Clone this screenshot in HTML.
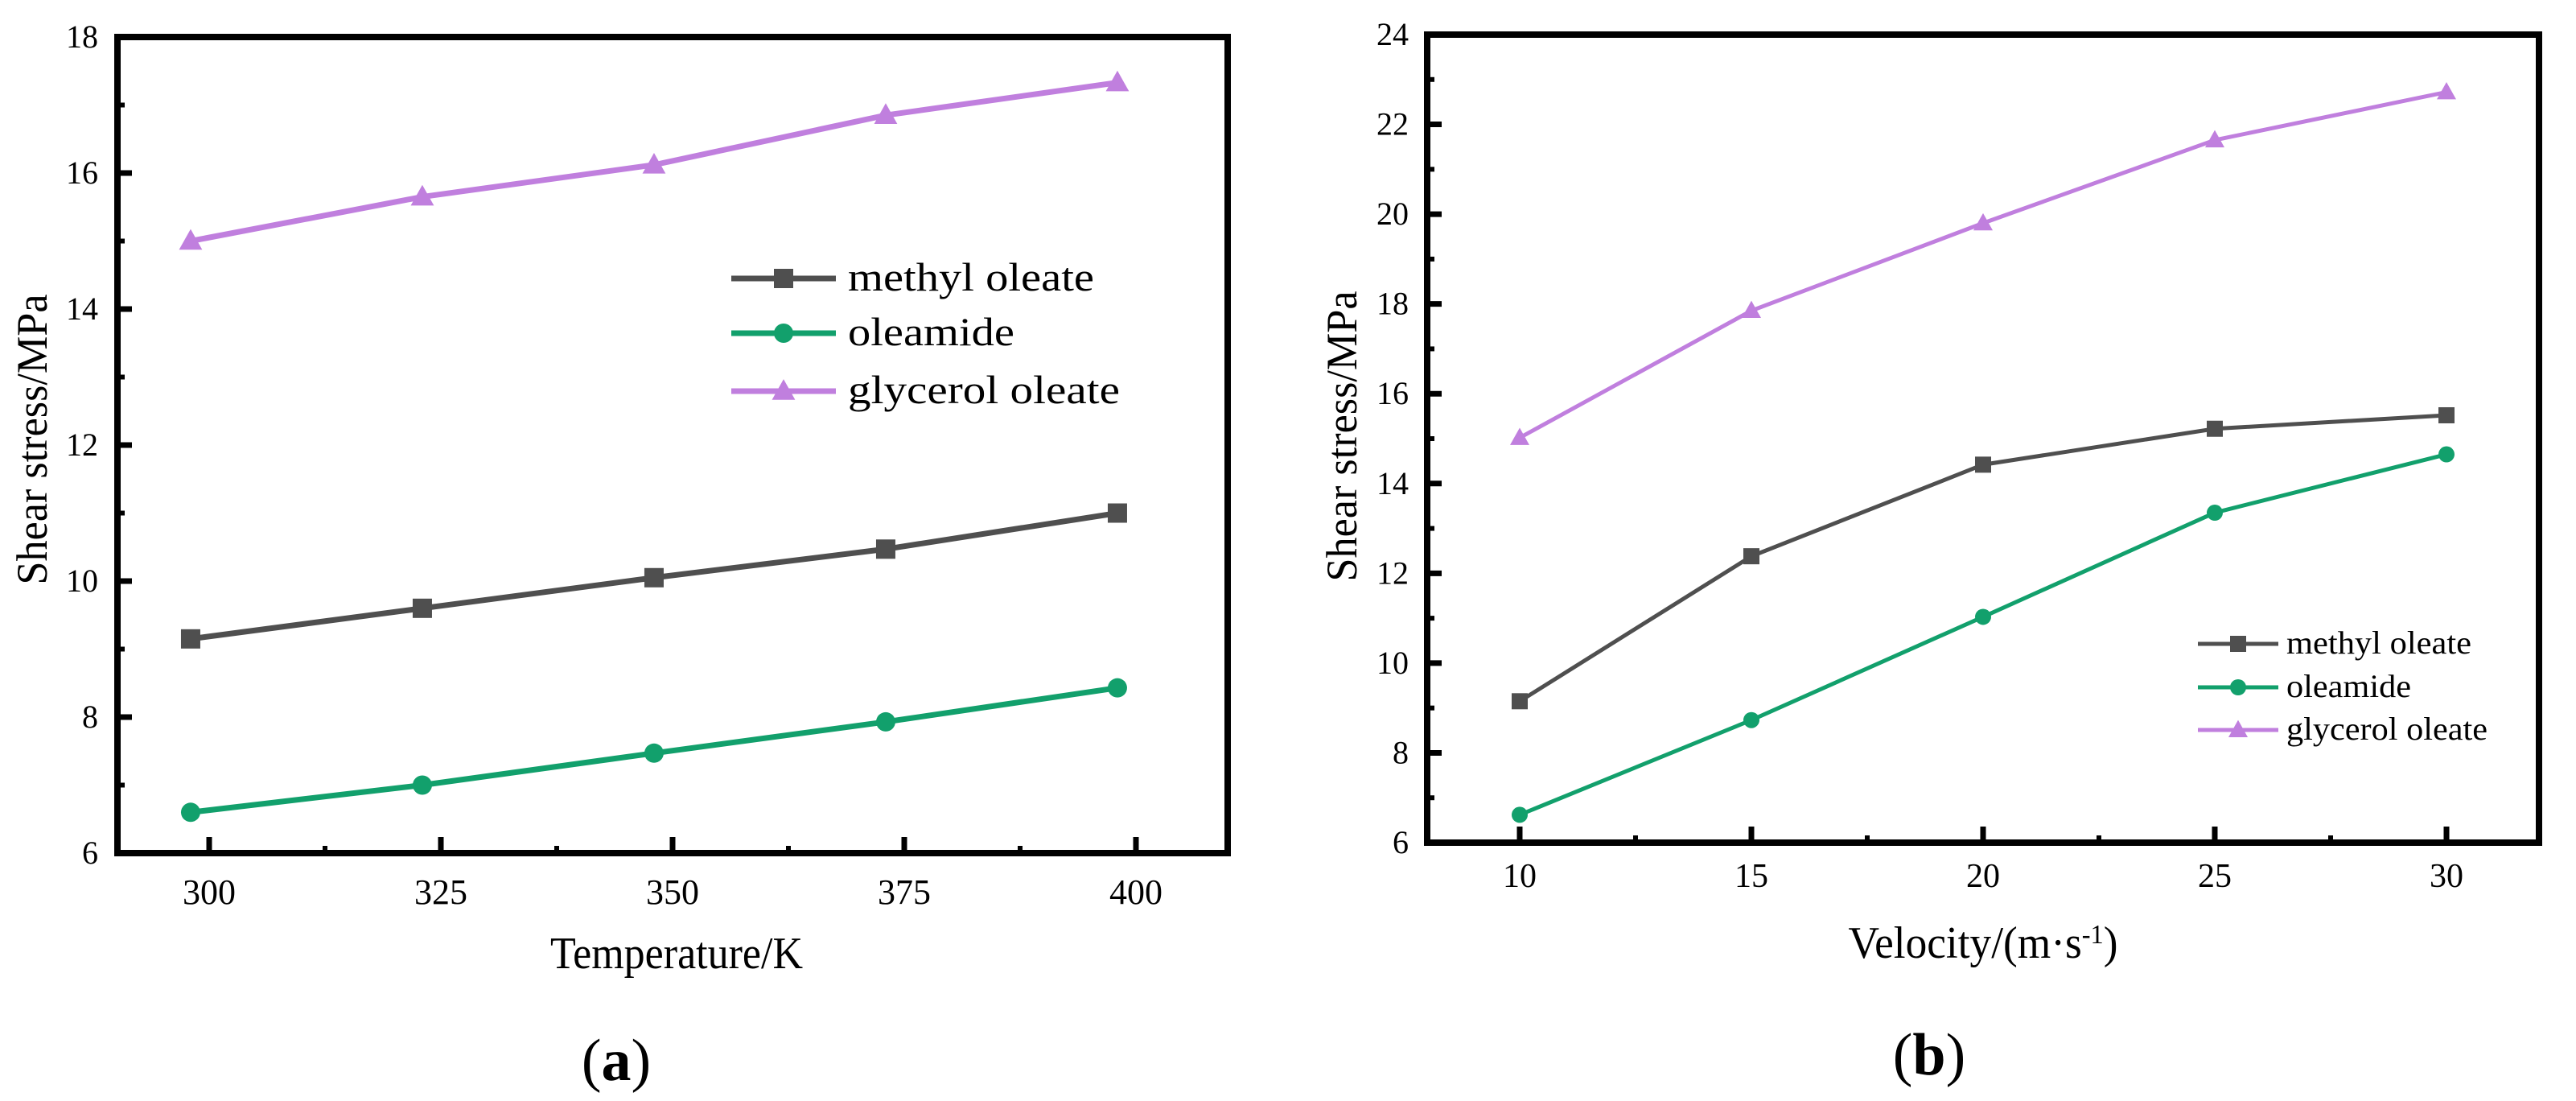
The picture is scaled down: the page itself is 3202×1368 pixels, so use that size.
<!DOCTYPE html>
<html><head><meta charset="utf-8"><style>
html,body{margin:0;padding:0;background:#fff;}
svg{display:block;font-family:"Liberation Serif",serif;}
</style></head><body>
<svg id="fig" width="3202" height="1368" viewBox="0 0 3202 1368"></svg>
<script>
// Panel (a) data
const tempX = [298, 323, 348, 373, 398];
const tempMethyl = [9.15, 9.6, 10.05, 10.47, 11.0];
const tempOleamide = [6.6, 7.0, 7.47, 7.93, 8.43];
const tempGlycerol = [15.0, 15.65, 16.12, 16.85, 17.33];
const tempXTicks = [300, 325, 350, 375, 400];
const tempYTicks = [6, 8, 10, 12, 14, 16, 18];
// Panel (b) data
const velX = [10, 15, 20, 25, 30];
const velMethyl = [9.15, 12.38, 14.42, 15.22, 15.52];
const velOleamide = [6.62, 8.73, 11.03, 13.35, 14.65];
const velGlycerol = [15.02, 17.85, 19.8, 21.65, 22.72];
const velXTicks = [10, 15, 20, 25, 30];
const velYTicks = [6, 8, 10, 12, 14, 16, 18, 20, 22, 24];
const seriesNames = ["methyl oleate", "oleamide", "glycerol oleate"];

const NS = "http://www.w3.org/2000/svg";
const svg = document.getElementById("fig");
function mk(tag, attrs, parent, text) {
  const e = document.createElementNS(NS, tag);
  for (const k in attrs) e.setAttribute(k, attrs[k]);
  if (text !== undefined) e.textContent = text;
  (parent || svg).appendChild(e);
  return e;
}
const COLORS = ["#4f4f4f", "#12a06c", "#c07fde"];

function marker(g, type, cx, cy, s, color) {
  let m;
  if (type === 0) m = mk("rect", {x: cx - s / 2, y: cy - s / 2, width: s, height: s, fill: color}, g);
  else if (type === 1) m = mk("circle", {cx: cx, cy: cy, r: s / 2, fill: color}, g);
  else { const h = s * 1.0; m = mk("polygon", {points: `${cx},${cy - h * 0.62} ${cx - s * 0.6},${cy + h * 0.45} ${cx + s * 0.6},${cy + h * 0.45}`, fill: color}, g); }
  return m;
}

function panel(cfg) {
  const g = mk("g", {});
  
  
  const sx = v => cfg.x0 + (v - cfg.xa) / (cfg.xb - cfg.xa) * (cfg.x1 - cfg.x0);
  const sy = v => cfg.yBot - (v - cfg.ymin) / (cfg.ymax - cfg.ymin) * (cfg.yBot - cfg.yTop);
  for (let i = 0; i < cfg.yTicks.length; i++) {
    const v = cfg.yTicks[i];
    const y = sy(v);
    const t = mk("line", {x1: cfg.L, x2: cfg.L + 18, y1: y, y2: y, stroke: "#000", "stroke-width": 7}, g);
    
    
    const lb = mk("text", {x: cfg.yLabX, y: y + 13, "text-anchor": "end", "font-size": cfg.yFont}, g, String(v));
    
    
    if (i < cfg.yTicks.length - 1) {
      const ym = sy((v + cfg.yTicks[i + 1]) / 2);
      const mt = mk("line", {x1: cfg.L, x2: cfg.L + 9, y1: ym, y2: ym, stroke: "#000", "stroke-width": 6}, g);
      
      
    }
  }
  for (let i = 0; i < cfg.xTicks.length; i++) {
    const v = cfg.xTicks[i];
    const x = sx(v);
    const t = mk("line", {x1: x, x2: x, y1: cfg.yBot, y2: cfg.yBot - 20, stroke: "#000", "stroke-width": 7}, g);
    
    
    const lb = mk("text", {x: x, y: cfg.xLabY, "text-anchor": "middle", "font-size": cfg.xFont}, g, String(v));
    
    
    if (i < cfg.xTicks.length - 1) {
      const xm = sx((v + cfg.xTicks[i + 1]) / 2);
      const mt = mk("line", {x1: xm, x2: xm, y1: cfg.yBot, y2: cfg.yBot - 9, stroke: "#000", "stroke-width": 6}, g);
      
      
    }
  }
  const fr = mk("rect", {x: cfg.L, y: cfg.yTop, width: cfg.R - cfg.L, height: cfg.yBot - cfg.yTop, fill: "none", stroke: "#000", "stroke-width": 8}, g);
  
  
  cfg.series.forEach((vals, si) => {
    const pts = cfg.xs.map((xv, j) => sx(xv) + "," + sy(vals[j])).join(" ");
    const pl = mk("polyline", {points: pts, fill: "none", stroke: COLORS[si], "stroke-width": cfg.lw}, g);
    
    
    cfg.xs.forEach((xv, j) => {
      const m = marker(g, si, sx(xv), sy(vals[j]), cfg.ms, COLORS[si]);
      
      
    });
  });
  seriesNames.forEach((n, i) => {
    const y = cfg.legY[i];
    const ll = mk("line", {x1: cfg.legX0, x2: cfg.legX1, y1: y, y2: y, stroke: COLORS[i], "stroke-width": cfg.lw}, g);
    
    
    const lm = marker(g, i, (cfg.legX0 + cfg.legX1) / 2, y, cfg.ms, COLORS[i]);
    
    
    const lt = mk("text", {x: cfg.legTX, y: y + cfg.legFont * 0.3, "font-size": cfg.legFont, textLength: cfg.legLen[i], lengthAdjust: "spacingAndGlyphs"}, g, n);
    
    
  });
  const xt = mk("text", {x: cfg.xTitleX, y: cfg.xTitleY, "text-anchor": "middle", "font-size": 56, textLength: cfg.xTitleLen, lengthAdjust: "spacingAndGlyphs"}, g);
  
  
  xt.innerHTML = cfg.xTitle;
  const yt = mk("text", {x: 0, y: 0, "text-anchor": "middle", "font-size": 54, textLength: 361, lengthAdjust: "spacingAndGlyphs", transform: `translate(${cfg.yTitleX},${cfg.yTitleY}) rotate(-90)`}, g, "Shear stress/MPa");
  
  
  const pl = mk("text", {x: cfg.capX, y: cfg.capY, "text-anchor": "middle", "font-size": 74}, g);
  
  
  pl.innerHTML = '(<tspan font-weight="bold">' + cfg.cap + '</tspan>)';
}

panel({
  name: "panel-a-temperature", L: 146, R: 1526, yTop: 46, yBot: 1060,
  x0: 260, x1: 1412, xa: 300, xb: 400, ymin: 6, ymax: 18,
  xs: tempX, series: [tempMethyl, tempOleamide, tempGlycerol],
  xTicks: tempXTicks, yTicks: tempYTicks, yLabX: 122, yFont: 40, xLabY: 1123, xFont: 44,
  lw: 7, ms: 24,
  legX0: 909, legX1: 1039, legTX: 1054, legY: [346, 414, 486], legFont: 50, legLen: [306, 207, 338],
  xTitle: "Temperature/K", xTitleX: 841, xTitleY: 1203, xTitleLen: 314,
  yTitleX: 58, yTitleY: 546, cap: "a", capX: 766, capY: 1342
});
panel({
  name: "panel-b-velocity", L: 1774, R: 3156, yTop: 43, yBot: 1047,
  x0: 1889, x1: 3041, xa: 10, xb: 30, ymin: 6, ymax: 24,
  xs: velX, series: [velMethyl, velOleamide, velGlycerol],
  xTicks: velXTicks, yTicks: velYTicks, yLabX: 1751, yFont: 40, xLabY: 1102, xFont: 42,
  lw: 5, ms: 20,
  legX0: 2732, legX1: 2832, legTX: 2842, legY: [800, 854, 907], legFont: 40, legLen: [230, 155, 250],
  xTitle: 'Velocity/(m·s<tspan baseline-shift="super" font-size="34">-1</tspan>)', xTitleX: 2465, xTitleY: 1190, xTitleLen: 335,
  yTitleX: 1686, yTitleY: 542, cap: "b", capX: 2398, capY: 1335
});
</script>
</body></html>
